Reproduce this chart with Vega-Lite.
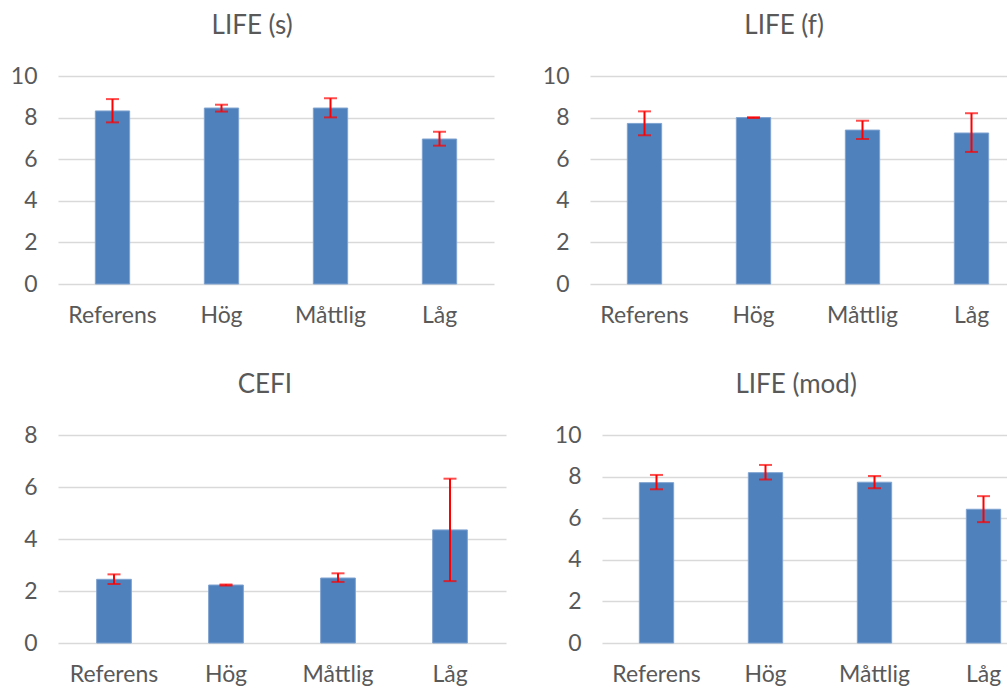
{
  "$schema": "https://vega.github.io/schema/vega-lite/v6.json",
  "background": "white",
  "padding": {"left": 10, "top": 13, "right": 0, "bottom": 0},
  "data": {"values": [
    {"panel": "LIFE (s)", "group": "Referens", "mean": 8.32, "lo": 7.77, "hi": 8.89},
    {"panel": "LIFE (s)", "group": "Hög", "mean": 8.46, "lo": 8.29, "hi": 8.62},
    {"panel": "LIFE (s)", "group": "Måttlig", "mean": 8.46, "lo": 8.01, "hi": 8.93},
    {"panel": "LIFE (s)", "group": "Låg", "mean": 6.97, "lo": 6.65, "hi": 7.32},
    {"panel": "LIFE (f)", "group": "Referens", "mean": 7.72, "lo": 7.15, "hi": 8.30},
    {"panel": "LIFE (f)", "group": "Hög", "mean": 8.0, "lo": 7.98, "hi": 8.02},
    {"panel": "LIFE (f)", "group": "Måttlig", "mean": 7.40, "lo": 6.97, "hi": 7.85},
    {"panel": "LIFE (f)", "group": "Låg", "mean": 7.26, "lo": 6.35, "hi": 8.21},
    {"panel": "CEFI", "group": "Referens", "mean": 2.45, "lo": 2.27, "hi": 2.64},
    {"panel": "CEFI", "group": "Hög", "mean": 2.23, "lo": 2.21, "hi": 2.25},
    {"panel": "CEFI", "group": "Måttlig", "mean": 2.50, "lo": 2.35, "hi": 2.68},
    {"panel": "CEFI", "group": "Låg", "mean": 4.35, "lo": 2.38, "hi": 6.32},
    {"panel": "LIFE (mod)", "group": "Referens", "mean": 7.71, "lo": 7.39, "hi": 8.08},
    {"panel": "LIFE (mod)", "group": "Hög", "mean": 8.19, "lo": 7.86, "hi": 8.56},
    {"panel": "LIFE (mod)", "group": "Måttlig", "mean": 7.73, "lo": 7.44, "hi": 8.03},
    {"panel": "LIFE (mod)", "group": "Låg", "mean": 6.43, "lo": 5.81, "hi": 7.06}
  ]},
  "config": {
    "font": "Lato",
    "view": {"stroke": null},
    "title": {"fontSize": 26, "fontWeight": "normal", "color": "#595959", "font": "Lato", "offset": 26, "frame": "bounds"},
    "axis": {"labelColor": "#595959", "labelFontSize": 23, "labelFont": "Lato", "domain": false, "ticks": false, "title": null},
    "axisX": {"labelPadding": 20, "labelAngle": 0, "grid": false},
    "axisY": {"labelPadding": 21, "grid": true, "gridColor": "#D9D9D9", "gridWidth": 1.5}
  },
  "spacing": 45,
  "vconcat": [
    {
      "spacing": 48,
      "hconcat": [
        {
          "title": "LIFE (s)",
          "width": 436, "height": 208,
          "transform": [{"filter": "datum.panel === 'LIFE (s)'"}],
          "encoding": {
            "x": {"field": "group", "type": "nominal", "title": null, "sort": ["Referens", "Hög", "Måttlig", "Låg"], "scale": {"paddingInner": 0.685, "paddingOuter": 0.3425}}
          },
          "layer": [
            {"mark": {"type": "bar", "color": "#4F81BD", "stroke": "#7FA3D0", "strokeWidth": 1},
             "encoding": {"y": {"field": "mean", "type": "quantitative", "title": null, "scale": {"domain": [0, 10]}, "axis": {"values": [0, 2, 4, 6, 8, 10]}}}},
            {"mark": {"type": "errorbar", "ticks": {"color": "#FF0000", "size": 13, "thickness": 2}, "rule": {"color": "#FF0000", "strokeWidth": 2}},
             "encoding": {"y": {"field": "lo", "type": "quantitative", "title": null}, "y2": {"field": "hi"}}}
          ]
        },
        {
          "title": "LIFE (f)",
          "width": 436, "height": 208,
          "transform": [{"filter": "datum.panel === 'LIFE (f)'"}],
          "encoding": {
            "x": {"field": "group", "type": "nominal", "title": null, "sort": ["Referens", "Hög", "Måttlig", "Låg"], "scale": {"paddingInner": 0.685, "paddingOuter": 0.3425}}
          },
          "layer": [
            {"mark": {"type": "bar", "color": "#4F81BD", "stroke": "#7FA3D0", "strokeWidth": 1},
             "encoding": {"y": {"field": "mean", "type": "quantitative", "title": null, "scale": {"domain": [0, 10]}, "axis": {"values": [0, 2, 4, 6, 8, 10]}}}},
            {"mark": {"type": "errorbar", "ticks": {"color": "#FF0000", "size": 13, "thickness": 2}, "rule": {"color": "#FF0000", "strokeWidth": 2}},
             "encoding": {"y": {"field": "lo", "type": "quantitative", "title": null}, "y2": {"field": "hi"}}}
          ]
        }
      ]
    },
    {
      "spacing": 48,
      "hconcat": [
        {
          "title": "CEFI",
          "width": 448, "height": 208,
          "transform": [{"filter": "datum.panel === 'CEFI'"}],
          "encoding": {
            "x": {"field": "group", "type": "nominal", "title": null, "sort": ["Referens", "Hög", "Måttlig", "Låg"], "scale": {"paddingInner": 0.69, "paddingOuter": 0.345}}
          },
          "layer": [
            {"mark": {"type": "bar", "color": "#4F81BD", "stroke": "#7FA3D0", "strokeWidth": 1},
             "encoding": {"y": {"field": "mean", "type": "quantitative", "title": null, "scale": {"domain": [0, 8]}, "axis": {"values": [0, 2, 4, 6, 8]}}}},
            {"mark": {"type": "errorbar", "ticks": {"color": "#FF0000", "size": 13, "thickness": 2}, "rule": {"color": "#FF0000", "strokeWidth": 2}},
             "encoding": {"y": {"field": "lo", "type": "quantitative", "title": null}, "y2": {"field": "hi"}}}
          ]
        },
        {
          "title": "LIFE (mod)",
          "width": 436, "height": 208,
          "transform": [{"filter": "datum.panel === 'LIFE (mod)'"}],
          "encoding": {
            "x": {"field": "group", "type": "nominal", "title": null, "sort": ["Referens", "Hög", "Måttlig", "Låg"], "scale": {"paddingInner": 0.685, "paddingOuter": 0.3425}}
          },
          "layer": [
            {"mark": {"type": "bar", "color": "#4F81BD", "stroke": "#7FA3D0", "strokeWidth": 1},
             "encoding": {"y": {"field": "mean", "type": "quantitative", "title": null, "scale": {"domain": [0, 10]}, "axis": {"values": [0, 2, 4, 6, 8, 10]}}}},
            {"mark": {"type": "errorbar", "ticks": {"color": "#FF0000", "size": 13, "thickness": 2}, "rule": {"color": "#FF0000", "strokeWidth": 2}},
             "encoding": {"y": {"field": "lo", "type": "quantitative", "title": null}, "y2": {"field": "hi"}}}
          ]
        }
      ]
    }
  ]
}
